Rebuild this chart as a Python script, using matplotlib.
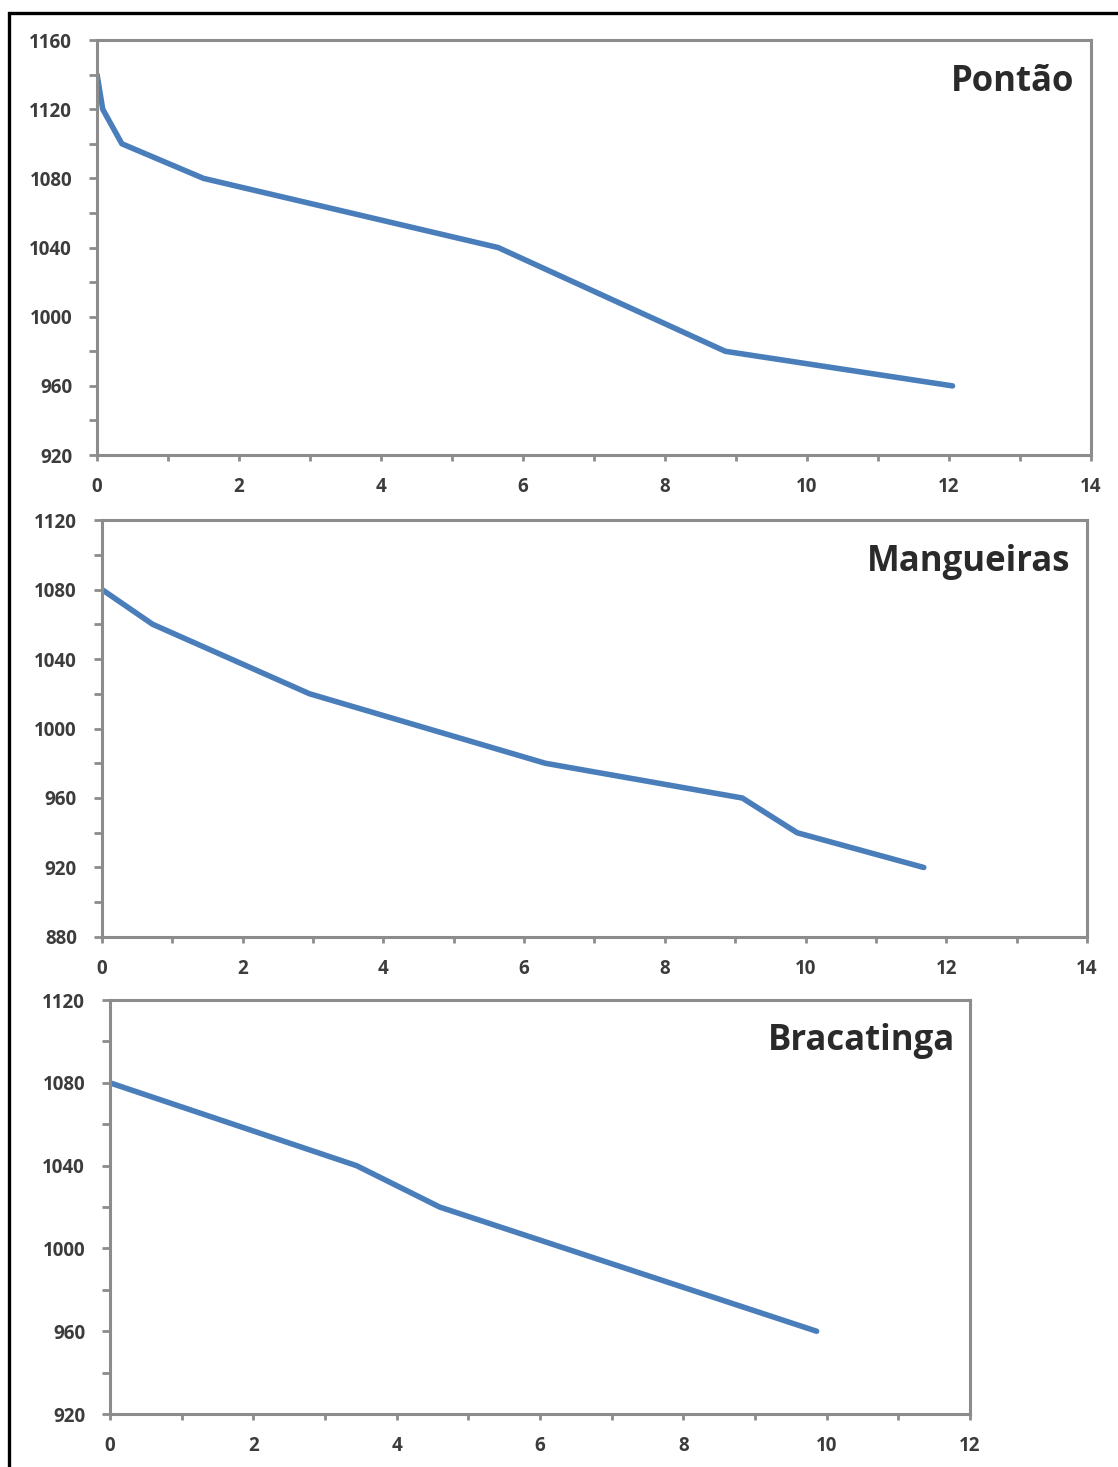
import matplotlib.pyplot as plt
from matplotlib.patches import Rectangle
from matplotlib.ticker import MultipleLocator

# Pontão
pontao_x = [0, 0.08, 0.35, 1.5, 5.65, 8.85, 12.05]
pontao_y = [1140, 1120, 1100, 1080, 1040, 980, 960]

# Mangueiras
mang_x = [0, 0.72, 2.95, 6.3, 9.1, 9.88, 11.68]
mang_y = [1080, 1060, 1020, 980, 960, 940, 920]

# Bracatinga
brac_x = [0, 3.44, 4.6, 9.86]
brac_y = [1080, 1040, 1020, 960]

panels = [
    ("Pontão", pontao_x, pontao_y, (0, 14), (920, 1160), [0.0868, 0.6898, 0.8890, 0.2829]),
    ("Mangueiras", mang_x, mang_y, (0, 14), (880, 1120), [0.0912, 0.3613, 0.8811, 0.2842]),
    ("Bracatinga", brac_x, brac_y, (0, 12), (920, 1120), [0.0984, 0.0361, 0.7692, 0.2822]),
]

line_color = "#4A7EBB"
spine_color = "#8C8C8C"
text_color = "#3C3C3C"

fig = plt.figure(figsize=(11.18, 14.67), dpi=100)

# outer frame (cut at the right and bottom edges)
fig.patches.append(Rectangle((0.008, -0.1), 1.2, 0.9911 + 0.1, transform=fig.transFigure,
                             fill=False, edgecolor="black", linewidth=2.4))

for name, xs, ys, xlim, ylim, pos in panels:
    ax = fig.add_axes(pos)
    ax.plot(xs, ys, color=line_color, linewidth=4, solid_capstyle="round")
    ax.set_xlim(*xlim)
    ax.set_ylim(*ylim)
    ax.xaxis.set_major_locator(MultipleLocator(2))
    ax.xaxis.set_minor_locator(MultipleLocator(1))
    ax.yaxis.set_major_locator(MultipleLocator(40))
    ax.yaxis.set_minor_locator(MultipleLocator(20))
    for s in ax.spines.values():
        s.set_color(spine_color)
        s.set_linewidth(2.2)
    ax.tick_params(axis="y", which="both", direction="out", length=6, width=2,
                   color=spine_color, left=True, right=False)
    ax.tick_params(axis="x", which="both", direction="out", length=4, width=2,
                   color=spine_color, bottom=True, top=False)
    ax.tick_params(axis="y", which="major", pad=12)
    ax.tick_params(axis="x", which="major", pad=12)
    for lab in ax.get_xticklabels() + ax.get_yticklabels():
        lab.set_fontsize(13.5)
        lab.set_fontweight("bold")
        lab.set_color(text_color)
        lab.set_family("Open Sans")
    ax.text(0.983, 0.9, name, transform=ax.transAxes, ha="right", va="center",
            fontsize=25, fontweight="bold", color="#2A2A2A", family="Open Sans")

fig.savefig("out.png", dpi=100)
